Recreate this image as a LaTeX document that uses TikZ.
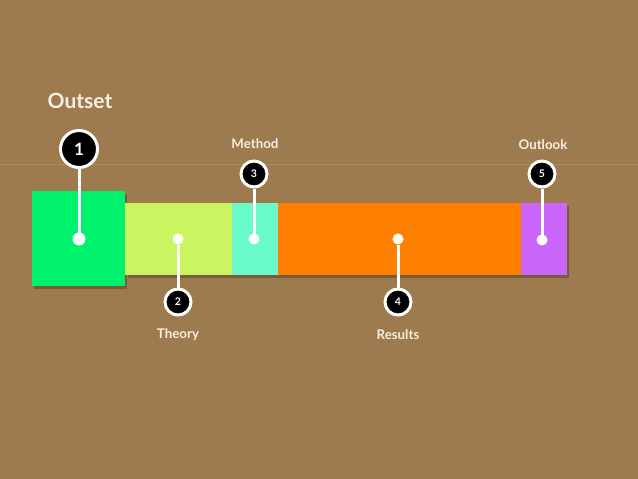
\documentclass[tikz,border=0pt]{standalone}
\usepackage{fontspec}
\setmainfont{Lato}
\usepackage{tikz}
\usetikzlibrary{positioning}

\definecolor{board}{RGB}{158,123,79}
\definecolor{cream}{RGB}{246,238,224}
\definecolor{outsetgreen}{RGB}{0,242,108}
\definecolor{theorylime}{RGB}{202,245,96}
\definecolor{methodmint}{RGB}{104,250,202}
\definecolor{resultsorange}{RGB}{255,128,0}
\definecolor{outlookviolet}{RGB}{202,102,250}

\begin{document}
\begin{tikzpicture}[x=1pt,y=-1pt,
  seg/.style={rectangle, inner sep=0pt, outer sep=0pt, draw=none},
  shade/.style={fill=black, opacity=0.25},
  dot/.style={circle, fill=white, minimum size=13pt, inner sep=0pt, outer sep=0pt},
  badge/.style={circle, fill=black, draw=white, line width=3pt, minimum size=26pt, inner sep=0pt, text=white, font=\bfseries\fontsize{10.5}{10.5}\selectfont},
  bigbadge/.style={badge, minimum size=37pt, font=\bfseries\fontsize{17}{17}\selectfont},
  stem/.style={draw=white, line width=3pt},
  caption/.style={text=cream, font=\bfseries\fontsize{13.3}{13.3}\selectfont}]
\useasboundingbox (0,0) rectangle (638,479);
\fill[board] (0,0) rectangle (638,479);
\draw[cream, opacity=0.15, line width=0.6pt] (0,164) -- (638,164);

% shadows
\fill[shade] (128,206) rectangle (569,278);
\fill[shade] (34,194) rectangle (127,289);

% bar segments
\node[seg, fill=theorylime, minimum width=107pt, minimum height=72pt] (theory) at (178.5,239) {};
\node[seg, fill=methodmint, minimum width=46pt, minimum height=72pt] (method) at (255,239) {};
\node[seg, fill=resultsorange, minimum width=243pt, minimum height=72pt] (results) at (399.5,239) {};
\node[seg, fill=outlookviolet, minimum width=46pt, minimum height=72pt] (outlook) at (544,239) {};
\node[seg, fill=outsetgreen, minimum width=93pt, minimum height=95pt] (outset) at (78.5,238.5) {};

% markers
\node[dot] (d1) at (79,239) {};
\node[dot, minimum size=11pt] (d2) at (178,239) {};
\node[dot, minimum size=11pt] (d3) at (254,239) {};
\node[dot, minimum size=11pt] (d4) at (398,239) {};
\node[dot, minimum size=11pt] (d5) at (542,240) {};

\node[bigbadge] (b1) at (79,149) {1};
\node[badge] (b2) at (178,302) {2};
\node[badge] (b3) at (254,174) {3};
\node[badge] (b4) at (398,302) {4};
\node[badge] (b5) at (542,174) {5};

\draw[stem] (d1) -- (b1);
\draw[stem] (d2) -- (b2);
\draw[stem] (d3) -- (b3);
\draw[stem] (d4) -- (b4);
\draw[stem] (d5) -- (b5);

% labels
\node[caption, font=\bfseries\fontsize{21}{21}\selectfont] (l1) at (80,101) {Outset};
\node[caption] (l2) at (178,335) {Theory};
\node[caption] (l3) at (255,144) {Method};
\node[caption] (l4) at (398,335) {Results};
\node[caption] (l5) at (543,145) {Outlook};
\end{tikzpicture}
\end{document}
